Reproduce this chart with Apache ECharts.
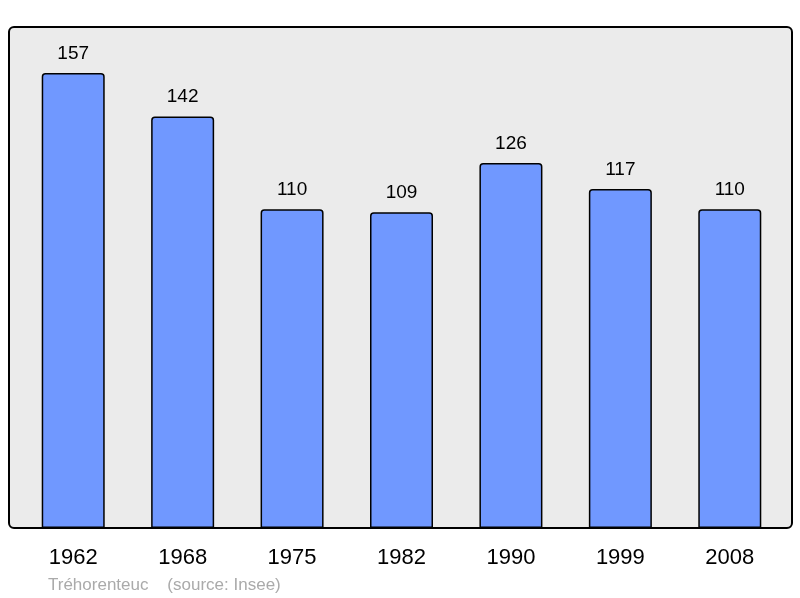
<!DOCTYPE html>
<html>
<head>
<meta charset="utf-8">
<script src="https://cdn.jsdelivr.net/npm/echarts@6/dist/echarts.min.js"></script>
<style>html,body{margin:0;padding:0;background:#fff}#c{width:800px;height:598px}</style>
</head>
<body>
<div id="c"></div>
<script>
const categories = ['1962','1968','1975','1982','1990','1999','2008'];
const population = [157,142,110,109,126,117,110];
const sourceText = 'Tréhorenteuc    (source: Insee)';

const chart = echarts.init(document.getElementById('c'), null, {renderer:'canvas'});
chart.setOption({
  animation:false,
  textStyle:{fontFamily:'Liberation Sans, Arial, sans-serif'},
  graphic:[
    {type:'rect', z:-10, shape:{x:9,y:27,width:783,height:501,r:5},
     style:{fill:'#ebebeb',stroke:'#000',lineWidth:2}},
    {type:'text', left:48, top:577, style:{text:sourceText, fill:'#aaaaaa', font:'17px "Liberation Sans", Arial, sans-serif'}}
  ],
  grid:{left:18.5,right:15.5,top:27,bottom:70},
  xAxis:{type:'category', data:categories,
    axisLine:{show:false}, axisTick:{show:false},
    axisLabel:{fontSize:22, color:'#000', margin:19}},
  yAxis:{type:'value', min:0, max:172.9, show:false, splitLine:{show:false}},
  series:[{type:'bar', data:population, barWidth:63,
    itemStyle:{color:'#7098ff', borderColor:'#000', borderWidth:1.5, borderRadius:[3,3,0,0]},
    label:{show:true, position:'top', distance:10, fontSize:19, color:'#000'}}]
});
</script>
</body>
</html>
